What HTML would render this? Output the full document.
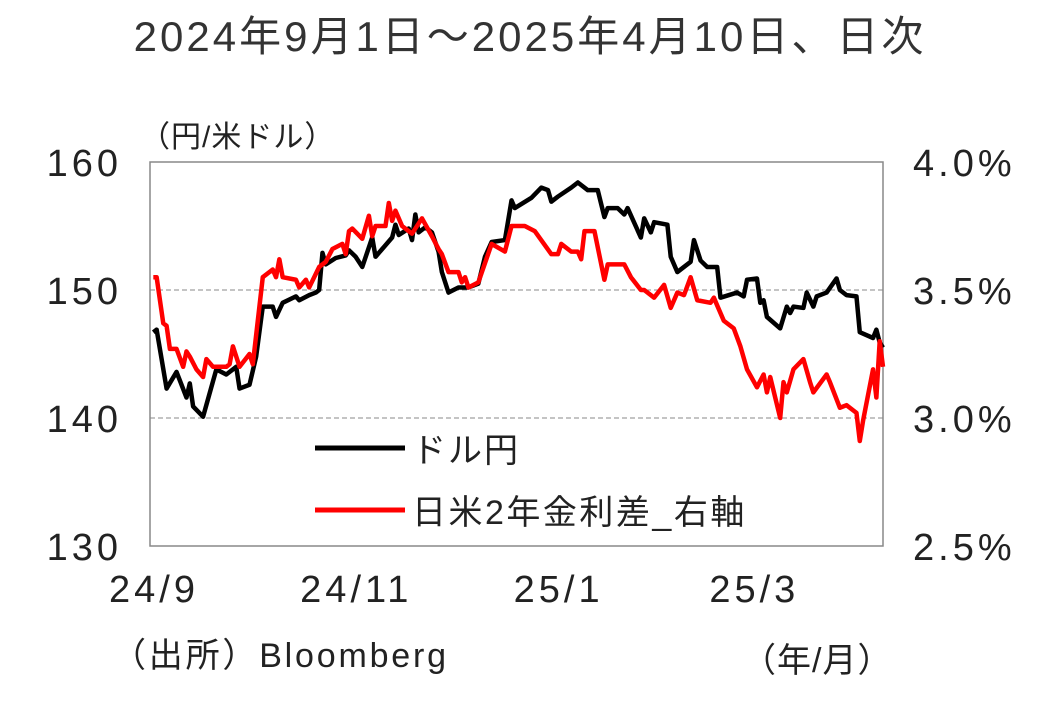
<!DOCTYPE html>
<html><head><meta charset="utf-8"><style>
body{margin:0;background:#fff;}
svg{display:block;font-family:"Liberation Sans","Noto Sans CJK JP",sans-serif;}
</style></head><body>
<svg id="chart" width="1064" height="706" viewBox="0 0 1064 706">
<text x="530" y="51" text-anchor="middle" font-size="42" letter-spacing="3" fill="#333">2024年9月1日～2025年4月10日、日次</text>
<text x="140" y="147" font-size="30" letter-spacing="1" fill="#222">（円/米ドル）</text>
<rect x="150" y="162" width="733" height="384" fill="none" stroke="#888" stroke-width="1.5"/>
<g id="grid"></g><g id="ticks"></g><g id="series"></g>
<g>
<line x1="315" y1="448" x2="405" y2="448" stroke="#000" stroke-width="5"/>
<text x="412" y="462" font-size="34" letter-spacing="2" fill="#222">ドル円</text>
<line x1="315" y1="510" x2="405" y2="510" stroke="#f00" stroke-width="5"/>
<text x="412" y="524" font-size="34" letter-spacing="2.5" fill="#222">日米2年金利差_右軸</text>
</g>
<text x="112" y="667" font-size="34" letter-spacing="2.8" fill="#222">（出所）Bloomberg</text>
<text x="742" y="672" font-size="34" letter-spacing="1" fill="#222">（年/月）</text>
</svg>
<script>
const xTickLabels=["24/9","24/11","25/1","25/3"];
const xTickDays=[0,61,122,181];
const leftTicks=[130,140,150,160];
const rightTicks=["2.5%","3.0%","3.5%","4.0%"];
const gridValues=[140,150];
const usdDays=[1,2,5,8,11,12,13,16,20,23,26,27,30,32,34,37,38,40,44,45,48,50,51,52,53,56,59,60,62,64,67,68,73,74,75,78,79,80,81,83,85,87,88,90,93,95,96,99,101,103,107,109,110,115,118,120,121,123,127,129,132,135,137,138,141,143,144,148,149,151,152,156,157,159,163,164,166,168,171,172,177,179,180,183,184,185,186,190,192,193,194,197,198,200,201,204,207,208,210,213,214,218,219,220,221];
const usdValues=[146.7,146.9,142.3,143.6,141.6,142.7,140.9,140.1,143.8,143.4,144.0,142.3,142.6,144.8,148.7,148.7,147.9,149.0,149.5,149.2,149.6,149.8,150.0,152.9,152.0,152.5,152.7,153.1,152.6,151.8,154.1,152.6,154.1,155.1,154.3,154.8,153.9,155.9,154.5,154.9,154.5,153.0,151.4,149.8,150.2,150.2,150.2,150.5,152.6,153.75,153.9,157.0,156.4,157.2,158.0,157.8,156.9,157.3,158.0,158.4,157.8,157.8,155.7,156.4,156.4,155.9,156.4,154.1,155.6,154.5,155.3,155.1,152.6,151.4,152.2,153.9,152.3,151.8,151.8,149.4,149.8,149.5,150.8,150.9,149.0,149.2,147.9,147.0,148.7,148.2,148.7,148.6,149.8,148.7,149.5,149.8,150.9,150.0,149.6,149.5,146.7,146.25,146.9,145.9,145.5];
const spreadDays=[1,2,4,5,6,8,10,11,12,14,16,17,19,23,24,25,27,30,31,34,37,38,39,40,44,45,47,48,51,53,55,58,59,60,61,64,66,67,68,71,72,73,74,76,79,82,85,87,88,90,93,94,95,96,99,103,107,109,113,116,121,123,124,127,129,130,131,134,137,138,143,145,148,149,152,155,157,159,161,163,165,169,170,173,176,178,180,183,185,186,187,190,191,192,194,197,199,200,204,205,208,210,213,214,215,218,219,220,221];
const spreadValues=[3.55,3.55,3.37,3.36,3.27,3.27,3.20,3.26,3.24,3.19,3.16,3.23,3.20,3.20,3.21,3.28,3.20,3.25,3.21,3.55,3.58,3.55,3.62,3.55,3.54,3.51,3.54,3.51,3.59,3.61,3.66,3.68,3.64,3.73,3.74,3.70,3.79,3.71,3.75,3.75,3.84,3.77,3.81,3.75,3.72,3.78,3.71,3.66,3.64,3.57,3.57,3.53,3.55,3.51,3.53,3.68,3.65,3.75,3.75,3.73,3.64,3.64,3.68,3.65,3.65,3.62,3.73,3.73,3.54,3.60,3.60,3.55,3.50,3.50,3.47,3.52,3.43,3.49,3.48,3.55,3.46,3.45,3.47,3.38,3.35,3.28,3.19,3.12,3.17,3.10,3.16,3.00,3.14,3.10,3.19,3.23,3.14,3.10,3.17,3.14,3.04,3.05,3.02,2.91,2.99,3.19,3.08,3.30,3.20];

const NS="http://www.w3.org/2000/svg";
const X0=150,X1=883,Y0=546,Y1=162,DMAX=221;
const xs=d=>X0+d/DMAX*(X1-X0);
const yL=v=>Y0-(v-130)/30*(Y0-Y1);
const yR=v=>Y0-(v-2.5)/1.5*(Y0-Y1);
function mk(tag,attrs,parent){const e=document.createElementNS(NS,tag);for(const k in attrs)e.setAttribute(k,attrs[k]);parent.appendChild(e);return e;}
const grid=document.getElementById('grid'),ticks=document.getElementById('ticks'),series=document.getElementById('series');
gridValues.forEach(v=>{
  const l=mk('line',{x1:X0,x2:X1,y1:yL(v),y2:yL(v),stroke:'#888','stroke-width':1,'stroke-dasharray':'5,3'},grid);
  
  
});
leftTicks.forEach(v=>{
  const t=mk('text',{x:122,y:yL(v)+14,'text-anchor':'end','font-size':38,'letter-spacing':4,fill:'#222'},ticks);t.textContent=v;
  
  
});
rightTicks.forEach((s,i)=>{
  const t=mk('text',{x:913,y:yR(parseFloat(s))+14,'font-size':38,'letter-spacing':4,fill:'#222'},ticks);t.textContent=s;
  
  
});
xTickLabels.forEach((s,i)=>{
  const t=mk('text',{x:xs(xTickDays[i])+4,y:602,'text-anchor':'middle','font-size':38,'letter-spacing':4,fill:'#222'},ticks);t.textContent=s;
  
  
});
const pb=mk('polyline',{points:usdDays.map((d,i)=>xs(d)+','+yL(usdValues[i])).join(' '),fill:'none',stroke:'#000','stroke-width':4.5,'stroke-linejoin':'round'},series);


const pr=mk('polyline',{points:spreadDays.map((d,i)=>xs(d)+','+yR(spreadValues[i])).join(' '),fill:'none',stroke:'#f00','stroke-width':4.5,'stroke-linejoin':'round'},series);


</script>
</body></html>
